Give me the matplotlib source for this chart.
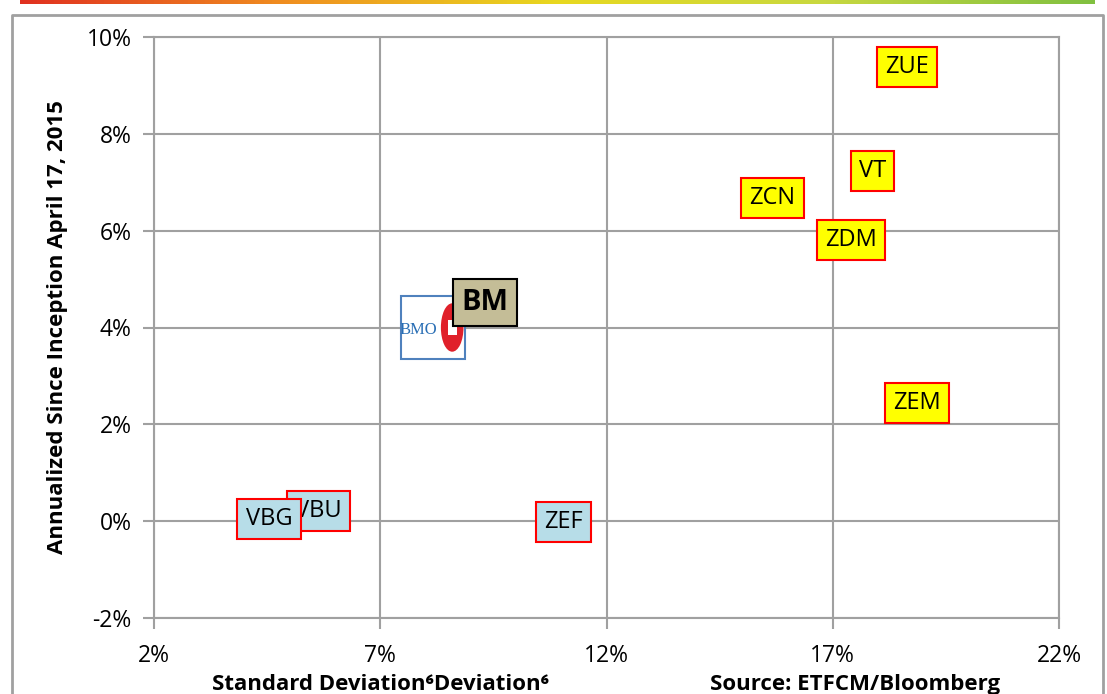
import matplotlib.pyplot as plt
import numpy as np
from matplotlib.colors import LinearSegmentedColormap
from matplotlib.patches import Ellipse, Rectangle

# fund labels: standard deviation (%) vs annualized return (%)
funds = ["ZUE", "VT", "ZCN", "ZDM", "ZEM", "ZEF", "VBU", "VBG"]
std_dev = [18.64, 17.88, 15.67, 17.40, 18.86, 11.05, 5.63, 4.54]
ann_ret = [9.38, 7.23, 6.67, 5.81, 2.44, -0.02, 0.21, 0.04]
fill = ["#ffff00"] * 5 + ["#b7dde8"] * 3

bm_x, bm_y = 9.32, 4.52
bmo_x, bmo_y = 8.17, 4.0

xticks = [2, 7, 12, 17, 22]
yticks = [-2, 0, 2, 4, 6, 8, 10]

plt.rcParams["font.family"] = ["Open Sans", "DejaVu Sans"]
fig = plt.figure(figsize=(11.07, 6.94), dpi=100)

# decorative frame and top gradient strip
grad = np.linspace(0, 1, 256).reshape(1, -1)
gax = fig.add_axes([20 / 1107, 1 - 4 / 694, 1075 / 1107, 4 / 694])
gax.imshow(grad, aspect="auto", cmap=LinearSegmentedColormap.from_list(
    "g", ["#e03020", "#f09020", "#e8d820", "#c8d840", "#80c040"]))
gax.axis("off")
fig.add_artist(plt.Line2D([12 / 1107, 12 / 1107, 1103 / 1107, 1103 / 1107],
                          [0, 1 - 15 / 694, 1 - 15 / 694, 0],
                          transform=fig.transFigure, color="#a0a0a0", lw=2))

ax = fig.add_axes([154 / 1107, 1 - 618 / 694, 905 / 1107, 581 / 694])
ax.set_xlim(2, 22)
ax.set_ylim(-2, 10)
ax.set_xticks(xticks)
ax.set_yticks(yticks)
ax.set_xticklabels([f"{t}%" for t in xticks], fontsize=16.5)
ax.set_yticklabels([f"{t}%" for t in yticks], fontsize=16.5)
ax.grid(True, color="#a0a0a0", lw=1.5)
ax.set_axisbelow(True)
for s in ax.spines.values():
    s.set_color("#a0a0a0")
    s.set_linewidth(1.5)
ax.tick_params(colors="#a0a0a0", labelcolor="black", length=8, width=1.5)
ax.tick_params(axis="y", pad=8)
ax.tick_params(axis="x", pad=11)

ax.set_ylabel("Annualized Since Inception April 17, 2015", fontsize=16,
              fontweight="bold")
ax.yaxis.set_label_coords(-0.095, 0.5)
ax.set_xlabel("Standard Deviation⁶Deviation⁶", fontsize=16, fontweight="bold")
ax.xaxis.set_label_coords(0.25, -0.097)
ax.text(0.775, -0.097, "Source: ETFCM/Bloomberg", transform=ax.transAxes, fontsize=16,
        fontweight="bold", ha="center", va="top")

for name, x, y, c in zip(funds, std_dev, ann_ret, fill):
    ax.text(x, y, name, fontsize=17, ha="center", va="center",
            bbox=dict(boxstyle="square,pad=0.35", fc=c, ec="red", lw=1.5))

# BMO logo box
ax.add_patch(Rectangle((bmo_x - 0.71, bmo_y - 0.65), 1.42, 1.3, fc="white", ec="#4f81bd",
                       lw=1.5, zorder=3))
ax.text(bmo_x - 0.33, bmo_y - 0.05, "BMO", fontsize=12, family="Liberation Serif",
        color="#2a6fb5", ha="center", va="center", zorder=4)
ax.add_patch(Ellipse((bmo_x + 0.42, bmo_y), 0.5, 1.0, fc="#e0202a", ec="none", zorder=4))
ax.add_patch(Rectangle((bmo_x + 0.32, bmo_y - 0.15), 0.2, 0.3, fc="white", ec="none", zorder=4))
ax.text(bm_x, bm_y, "BM", fontsize=21, fontweight="bold", ha="center", va="center", zorder=5,
        bbox=dict(boxstyle="square,pad=0.3", fc="#c4bd97", ec="black", lw=1.5))

fig.savefig("out.png", dpi=100)
